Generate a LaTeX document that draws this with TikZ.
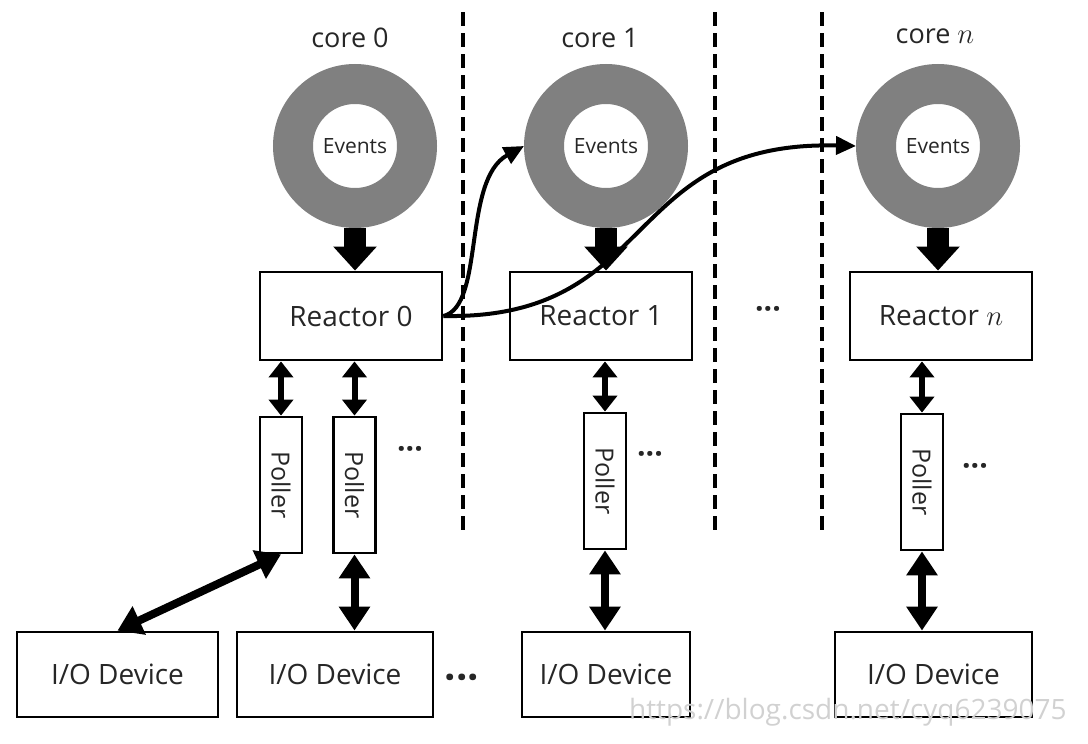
\documentclass[tikz,border=0pt]{standalone}
\usepackage{fontspec}
\setmainfont{Open Sans}
\usetikzlibrary{arrows.meta, positioning}

\begin{document}
\begin{tikzpicture}[
        x=0.5pt, y=-0.5pt,
        every node/.style={text=black!85},
        ring/.style={draw=black!50, circle, line width=20pt, minimum size=62pt, inner sep=0pt, font=\fontsize{10.5}{12}\selectfont},
        reactor/.style={draw=black, line width=1.4pt, minimum width=91pt, minimum height=44pt, font=\fontsize{14}{16}\selectfont},
        poller/.style={draw=black, line width=1.4pt, rotate=-90, minimum width=68pt, minimum height=21pt, inner sep=0pt, font=\fontsize{12.5}{14}\selectfont},
        iodev/.style={draw=black, line width=1.4pt, minimum height=42.5pt, font=\fontsize{14}{16}\selectfont},
        core/.style={font=\fontsize{13.5}{15}\selectfont},
        dots/.style={inner sep=0pt, font=\fontsize{15}{16}\selectfont\bfseries},
        feed/.style={line width=11pt, -{Triangle[width=21pt, length=12pt]}},
        link/.style={line width=3pt, {Triangle[width=12pt, length=8pt]}-{Triangle[width=12pt, length=8pt]}},
        iolink/.style={line width=4pt, {Triangle[width=15pt, length=12pt]}-{Triangle[width=15pt, length=12pt]}},
        sep/.style={line width=1.6pt, dash pattern=on 7pt off 3.5pt},
        hop/.style={line width=2pt, -{Triangle[width=9pt, length=10pt]}}
    ]
    \useasboundingbox (0,0) rectangle (1088,744);

    % Core labels
    \node[core] (c0) at (350,38) {core 0};
    \node[core] (c1) at (600,38) {core 1};
    \node[core] (cn) at (935,36) {core $n$};

    % Event rings
    \node[ring] (ev0) at (355,146) {Events};
    \node[ring] (ev1) at (606,146) {Events};
    \node[ring] (evn) at (938,146) {Events};

    % Reactors
    \node[reactor] (r0) at (351,316) {Reactor 0};
    \node[reactor] (r1) at (601,316) {Reactor 1};
    \node[reactor] (rn) at (941,316) {Reactor $n$};
    \node[dots] (rdots) at (768,313) {···};

    % Pollers
    \node[poller] (pa) at (281,485) {Poller};
    \node[poller] (pb) at (354.5,485) {Poller};
    \node[poller] (p1) at (605,481) {Poller};
    \node[poller] (pn) at (922,482) {Poller};
    \node[dots] (pdots0) at (410,453) {···};
    \node[dots] (pdots1) at (650,458) {···};
    \node[dots] (pdotsn) at (975,470) {···};

    % I/O devices
    \node[iodev, minimum width=100.5pt] (io1) at (117.5,674.5) {I/O Device};
    \node[iodev, minimum width=98pt] (io2) at (335,674.5) {I/O Device};
    \node[iodev, minimum width=84pt] (io3) at (606,674.5) {I/O Device};
    \node[iodev, minimum width=98.5pt] (io4) at (933.5,674.5) {I/O Device};
    \node[dots, font=\fontsize{20}{22}\selectfont\bfseries] (iodots) at (462,683) {···};

    % Core separators
    \draw[sep] (463,12) -- (463,535);
    \draw[sep] (715,12) -- (715,535);
    \draw[sep] (822,12) -- (822,535);

    % Events into reactors
    \draw[feed] (ev0.south) -- (ev0 |- r0.north);
    \draw[feed] (ev1.south) -- (ev1 |- r1.north);
    \draw[feed] (evn.south) -- (evn |- rn.north);

    % Reactor <-> poller
    \draw[link] (r0.south -| pa) -- (pa.west);
    \draw[link] (r0.south -| pb) -- (pb.west);
    \draw[link] (r1.south -| p1) -- (p1.west);
    \draw[link] (rn.south -| pn) -- (pn.west);

    % Poller <-> device
    \draw[iolink] (pa.east) -- (io1.north);
    \draw[iolink] (pb.east) -- (io2.north -| pb);
    \draw[iolink] (p1.east) -- (io3.north -| p1);
    \draw[iolink] (pn.east) -- (io4.north -| pn);

    % Cross-core messages
    \draw[hop] (r0.east) .. controls (485,306) and (462,180) .. (ev1.west);
    \draw[hop] (r0.east) .. controls (660,320) and (620,140) .. (evn.west);

    \node[anchor=west, text=black!18, font=\fontsize{14}{16}\selectfont] (wm) at (622,712) {https://blog.csdn.net/cyq6239075};
\end{tikzpicture}
\end{document}
